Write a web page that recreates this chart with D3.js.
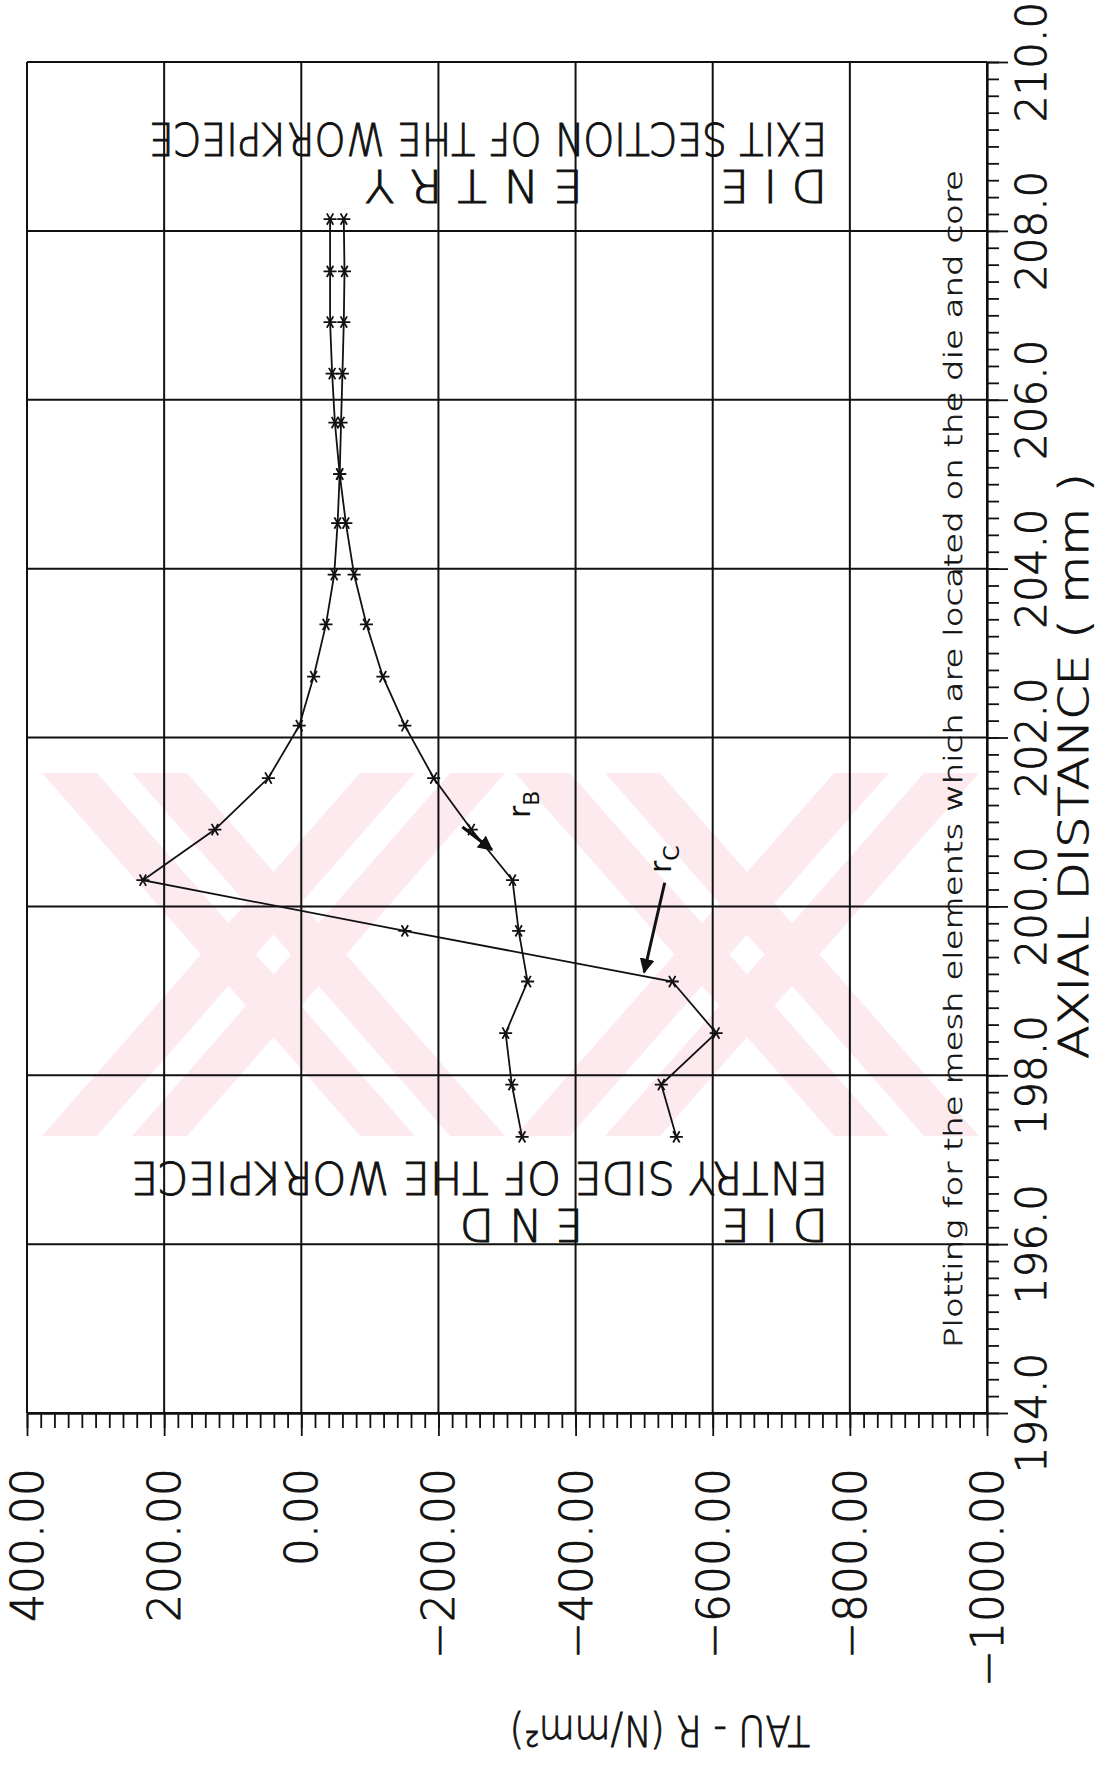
<!DOCTYPE html>
<html>
<head>
<meta charset="utf-8">
<script src="https://cdn.jsdelivr.net/npm/d3@7"></script>
<style>
  body { margin: 0; background: #fff; }
  svg { display: block; }
  .plotter { stroke: #111; stroke-width: 0.9px; }
</style>
</head>
<body>
<svg id="chart"></svg>
<script>
// axial distance of the mesh elements (mm)
const axialPos = [208.14, 207.52, 206.92, 206.31, 205.73, 205.12, 204.54, 203.93, 203.34, 202.72,
  202.14, 201.52, 200.91, 200.31, 199.71, 199.11, 198.50, 197.89, 197.27];
// TAU - R on the die side (rB) and core side (rC), N/mm2
const tauRB = [-42, -42, -42, -45, -49, -56, -65, -77, -95, -119,
  -151, -193, -248, -308, -317, -330, -298, -307, -322];
const tauRC = [-62, -63, -62, -60, -58, -56, -53, -48, -36, -18,
  3, 48, 126, 231, -151, -541, -605, -525, -547];

const tauTicks = [400, 200, 0, -200, -400, -600, -800, -1000];
const tauLabels = ["400.00", "200.00", "0.00", "\u2212200.00", "\u2212400.00", "\u2212600.00", "\u2212800.00", "\u22121000.00"];
const axialTicks = [194, 196, 198, 200, 202, 204, 206, 208, 210];
const axialLabels = ["194.0", "196.0", "198.0", "200.0", "202.0", "204.0", "206.0", "208.0", "210.0"];

const width = 1097, height = 1765;
const font = "'DejaVu Sans', sans-serif";
const ink = "#111";

const svg = d3.select("#chart").attr("width", width).attr("height", height);
svg.append("rect").attr("width", width).attr("height", height).attr("fill", "#fff");

const x = d3.scaleLinear().domain([400, -1000]).range([27, 987]);
const y = d3.scaleLinear().domain([194, 210]).range([1413, 62]);

// faint scanner watermark behind the grid
const wm = svg.append("g").attr("fill", "#fdeaee");
const wTop = 773, wBot = 1136, bw = 55, gap = 35;
[[42, 505], [515, 979]].forEach(([L, R]) => {
  const bands = [
    [L, R - 2 * bw - gap], [L + bw + gap, R - bw],
    [R - 2 * bw - gap, L], [R - bw, L + bw + gap]
  ];
  bands.forEach(([xt, xb]) => {
    wm.append("polygon").attr("points",
      [[xt, wTop], [xt + bw, wTop], [xb + bw, wBot], [xb, wBot]].map(p => p.join(",")).join(" "));
  });
});

// grid
const grid = svg.append("g").attr("stroke", ink).attr("stroke-width", 2);
grid.selectAll(".gv").data(tauTicks).join("line")
  .attr("x1", d => x(d)).attr("x2", d => x(d))
  .attr("y1", y(210)).attr("y2", y(194));
grid.selectAll(".gh").data(axialTicks).join("line")
  .attr("x1", x(400)).attr("x2", x(-1000))
  .attr("y1", d => y(d)).attr("y2", d => y(d));

// axes with minor ticks
const tauMinor = d3.range(400, -1001, -20);
const axialMinor = d3.range(0, 81).map(i => 194 + i * 0.2);

const bottom = svg.append("g").attr("transform", `translate(0,${y(194)})`);
bottom.append("g").call(d3.axisBottom(x).tickValues(tauMinor).tickSize(15).tickSizeOuter(0).tickFormat(""));
bottom.append("g").call(d3.axisBottom(x).tickValues(tauTicks).tickSize(23).tickSizeOuter(0).tickFormat(""));
bottom.selectAll("path,line").attr("stroke", ink).attr("stroke-width", 1.8);

const right = svg.append("g").attr("transform", `translate(${x(-1000)},0)`);
right.append("g").call(d3.axisRight(y).tickValues(axialMinor).tickSize(12).tickSizeOuter(0).tickFormat(""));
right.append("g").call(d3.axisRight(y).tickValues(axialTicks).tickSize(21).tickSizeOuter(0).tickFormat(""));
right.selectAll("path,line").attr("stroke", ink).attr("stroke-width", 1.8);

// tick labels (rotated, like the plotter output)
svg.append("g").selectAll("text").data(tauTicks).join("text")
  .attr("class", "plotter")
  .attr("transform", d => `translate(${x(d) + 16},1468) rotate(-90)`)
  .attr("text-anchor", "end")
  .attr("font-family", font).attr("font-weight", 200).attr("font-size", 44).attr("fill", ink)
  .text((d, i) => tauLabels[i]);

svg.append("g").selectAll("text").data(axialTicks).join("text")
  .attr("class", "plotter")
  .attr("transform", d => `translate(1046,${y(d)}) rotate(-90)`)
  .attr("text-anchor", "middle")
  .attr("font-family", font).attr("font-weight", 200).attr("font-size", 42).attr("fill", ink)
  .text((d, i) => axialLabels[i]);

// axis titles
svg.append("text")
  .attr("class", "plotter")
  .attr("transform", "translate(1088,766) rotate(-90)")
  .attr("text-anchor", "middle")
  .attr("font-family", font).attr("font-weight", 200).attr("font-size", 40).attr("fill", ink)
  .attr("textLength", 586).attr("lengthAdjust", "spacingAndGlyphs")
  .text("AXIAL  DISTANCE  ( mm )");

svg.append("text")
  .attr("class", "plotter")
  .attr("transform", "translate(810,1716) rotate(180)")
  .attr("font-family", font).attr("font-weight", 200).attr("font-size", 42).attr("fill", ink)
  .attr("textLength", 300).attr("lengthAdjust", "spacingAndGlyphs")
  .text("TAU  -  R  (N/mm\u00B2)");

svg.append("text")
  .attr("class", "plotter")
  .attr("transform", "translate(962,1348) rotate(-90)")
  .attr("font-family", font).attr("font-weight", 200).attr("font-size", 25).attr("fill", ink)
  .style("stroke-width", "0.6px")
  .attr("textLength", 1178).attr("lengthAdjust", "spacingAndGlyphs")
  .text("Plotting for the mesh elements which are located on the die and core");

// upside-down notes inside the frame
const notes = [
  { t: "EXIT SECTION OF THE WORKPIECE", x: 827, y: 123, len: 678 },
  { t: "D I E", x: 827, y: 170, len: 107 },
  { t: "E N T R Y", x: 583, y: 170, len: 218 },
  { t: "ENTRY SIDE OF THE WORKPIECE", x: 828, y: 1162, len: 697 },
  { t: "D I E", x: 828, y: 1209, len: 107 },
  { t: "E N D", x: 583, y: 1209, len: 123 }
];
svg.append("g").selectAll("text").data(notes).join("text")
  .attr("class", "plotter")
  .attr("transform", d => `translate(${d.x},${d.y}) rotate(180)`)
  .attr("font-family", font).attr("font-weight", 200).attr("font-size", 44).attr("fill", ink)
  .attr("textLength", d => d.len).attr("lengthAdjust", "spacingAndGlyphs")
  .text(d => d.t);

// series
const line = d3.line().x(d => x(d[1])).y(d => y(d[0]));
const series = [tauRB, tauRC].map(v => axialPos.map((p, i) => [p, v[i]]));

const plot = svg.append("g");
plot.selectAll("path.s").data(series).join("path")
  .attr("fill", "none").attr("stroke", ink).attr("stroke-width", 1.8)
  .attr("d", line);

const star = d3.symbol(d3.symbolAsterisk, 120);
series.forEach(s => {
  plot.append("g").selectAll("path").data(s).join("path")
    .attr("d", star)
    .attr("transform", d => `translate(${x(d[1])},${y(d[0])}) rotate(90)`)
    .attr("fill", "none").attr("stroke", ink).attr("stroke-width", 1.8);
});

// hand-written labels with arrows
svg.append("defs").append("marker")
  .attr("id", "head").attr("viewBox", "0 0 10 10")
  .attr("refX", 9).attr("refY", 5)
  .attr("markerWidth", 5).attr("markerHeight", 5)
  .attr("orient", "auto-start-reverse")
  .append("path").attr("d", "M0,0 L10,5 L0,10 Z").attr("fill", ink);

const notesHand = [
  { sub: "B", tip: [-278, 200.67], tail: [-235, 200.94], lx: 530, ly: 818, dy: 9 },
  { sub: "C", tip: [-500, 199.22], tail: [-530, 200.28], lx: 671, ly: 873, dy: 8 }
];
notesHand.forEach(n => {
  svg.append("line")
    .attr("x1", x(n.tail[0])).attr("y1", y(n.tail[1]))
    .attr("x2", x(n.tip[0])).attr("y2", y(n.tip[1]))
    .attr("stroke", ink).attr("stroke-width", 3)
    .attr("marker-end", "url(#head)");
  const t = svg.append("text")
    .attr("transform", `translate(${n.lx},${n.ly}) rotate(-90)`)
    .attr("font-family", font).attr("font-size", 30).attr("fill", ink);
  t.append("tspan").text("r");
  t.append("tspan").attr("dy", n.dy).attr("font-size", 22).text(n.sub);
});
</script>
</body>
</html>
